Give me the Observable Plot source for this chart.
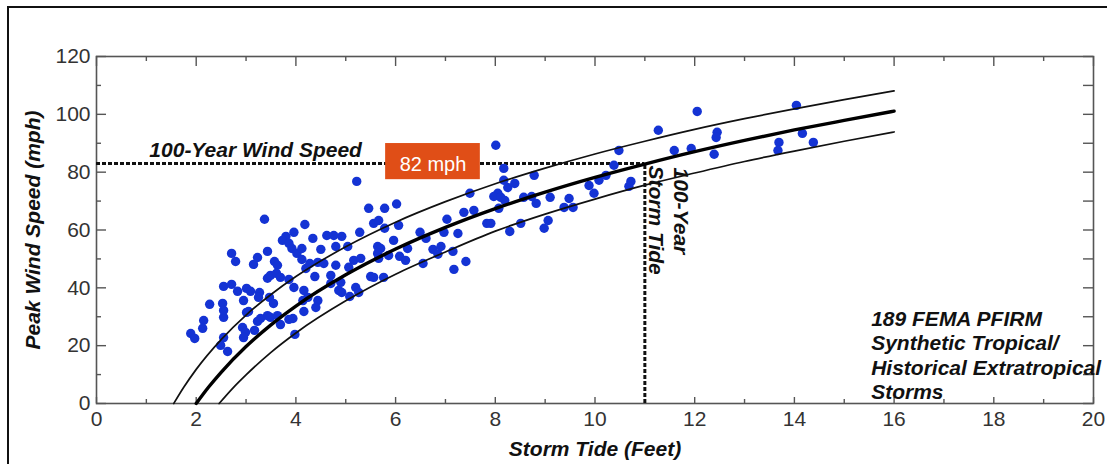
<!DOCTYPE html>
<html><head><meta charset="utf-8">
<script src="https://cdn.jsdelivr.net/npm/d3@7"></script>
<script src="https://cdn.jsdelivr.net/npm/@observablehq/plot@0.6"></script>
<style>
html,body{margin:0;padding:0;background:#fff;overflow:hidden}
#wrap{position:relative;width:1107px;height:464px;overflow:hidden}
#border{position:absolute;left:7px;top:6px;width:1300px;height:700px;border:2px solid #111;box-sizing:border-box;pointer-events:none}
</style></head><body><div id="wrap"><div id="border"></div></div>
<script>
// Storm data (storm tide in feet, peak wind speed in mph)
const stormTide = [
3.37,4.18,3.96,3.80,3.73,4.34,4.62,3.86,3.92,4.02,
4.12,4.50,3.43,2.71,2.79,3.23,3.15,3.57,3.63,4.12,
4.20,4.28,4.44,4.56,3.43,3.49,3.61,3.69,3.86,3.96,
4.38,2.55,2.71,2.83,3.01,3.09,3.27,3.25,2.95,3.47,
3.55,4.16,4.24,4.14,4.44,4.40,2.53,2.27,2.55,2.55,
3.01,3.05,3.43,3.49,3.29,3.23,3.63,3.86,3.94,4.16,
2.15,2.13,2.93,2.99,2.95,3.69,3.98,1.89,1.97,2.55,
3.17,2.49,2.63,
5.22,7.49,5.46,5.78,6.02,5.56,5.66,5.78,6.06,5.28,
4.76,4.92,4.80,5.04,5.96,6.49,6.61,7.03,6.97,7.25,
7.37,7.57,7.83,5.64,5.70,5.64,5.66,6.24,5.86,6.08,
6.20,6.75,6.85,6.91,7.15,7.41,7.17,6.55,5.16,5.30,
4.80,5.06,4.70,5.50,5.56,5.76,4.90,4.86,4.92,5.20,
5.26,5.08,4.70,
8.01,10.48,8.17,10.38,8.78,8.17,8.25,8.39,8.05,7.97,
8.11,8.19,9.88,9.98,10.08,10.22,10.72,10.68,8.57,8.73,
8.82,9.10,9.48,9.38,9.56,8.07,7.91,8.51,8.29,9.06,8.98,
11.27,12.05,14.04,12.45,12.43,11.59,11.93,12.39,13.69,13.67,14.16,14.38
];
const peakWind = [
63.7,61.9,59.2,57.8,56.4,57.1,58.1,55.4,53.6,51.9,
53.6,53.3,52.6,51.9,49.1,50.5,48.1,49.1,47.8,49.8,
46.7,48.4,48.8,48.4,43.3,44.3,45.0,43.6,42.9,40.1,
43.9,40.5,41.2,38.8,39.8,38.8,38.4,36.7,35.6,36.7,
34.6,39.1,36.7,35.6,35.6,33.2,34.6,34.3,29.8,32.2,
31.5,31.8,30.4,29.8,29.4,28.4,30.4,29.1,29.4,31.8,
28.7,26.0,26.3,24.6,22.8,27.3,23.9,24.2,22.5,22.8,
25.3,20.1,18.0,
76.8,72.7,67.5,67.5,69.0,62.3,63.3,60.6,61.6,59.2,
58.1,57.8,54.3,54.3,56.4,59.2,57.1,63.7,59.2,58.8,
66.1,66.8,62.3,54.3,53.6,51.9,50.2,53.6,51.2,50.9,
49.5,53.3,51.6,54.3,52.6,49.1,46.4,48.4,49.5,50.2,
47.8,47.1,44.3,43.9,43.6,43.6,41.9,39.1,38.4,40.1,
38.4,37.0,41.5,
89.3,87.5,81.3,82.4,78.9,77.2,74.7,76.1,72.7,71.6,
71.3,70.2,75.4,72.7,77.2,78.9,76.8,75.1,71.3,71.6,
69.2,71.3,70.9,67.8,67.8,67.5,62.3,62.3,59.5,63.3,60.6,
94.5,101.0,103.1,93.8,92.0,87.5,88.2,86.2,90.3,87.5,93.4,90.3
];

// Fitted relationship curves
const centralX = [2, 2.25, 2.5, 3, 3.5, 4, 5, 6, 7, 8, 9, 10, 11, 12, 13, 14, 15, 16];
const centralY = [0, 5.7, 10.8, 19.7, 27.2, 33.7, 44.5, 53.4, 60.9, 67.4, 73.1, 78.2, 82.8, 87.1, 91.0, 94.6, 97.9, 101.1];
const upperX = [1.55, 1.75, 2, 2.5, 3, 3.5, 4, 5, 6, 7, 8, 9, 10, 11, 12, 13, 14, 15, 16];
const upperY = [0, 5.6, 11.8, 22.1, 30.6, 37.7, 43.9, 54.2, 62.7, 69.8, 76.0, 81.4, 86.3, 90.7, 94.8, 98.5, 101.9, 105.1, 108.1];
const lowerX = [2.46, 2.75, 3, 3.5, 4, 5, 6, 7, 8, 9, 10, 11, 12, 13, 14, 15, 16];
const lowerY = [0, 5.6, 9.9, 17.7, 24.4, 35.5, 44.7, 52.4, 59.6, 65.5, 70.7, 75.5, 79.7, 83.7, 87.3, 90.7, 93.9];

// 100-year values
const hundredYearWind = 83;
const hundredYearWindLabel = "82 mph";
const hundredYearTide = 11;

// Ticks
const xMajorTicks = [0, 2, 4, 6, 8, 10, 12, 14, 16, 18, 20];
const xMinorTicks = [1, 3, 5, 7, 9, 11, 13, 15, 17, 19];
const yMajorTicks = [0, 20, 40, 60, 80, 100, 120];
const yMinorTicks = [10, 30, 50, 70, 90, 110];

// Text
const xTitle = "Storm Tide (Feet)";
const yTitle = "Peak Wind Speed (mph)";
const windLineLabel = "100-Year Wind Speed";
const tideLabel1 = "100-Year";
const tideLabel2 = "Storm Tide";
const noteLines = ["189 FEMA PFIRM", "Synthetic Tropical/", "Historical Extratropical", "Storms"];

const storms = stormTide.map((x, i) => ({x, y: peakWind[i]}));
const central = centralX.map((x, i) => ({x, y: centralY[i]}));
const upper = upperX.map((x, i) => ({x, y: upperY[i]}));
const lower = lowerX.map((x, i) => ({x, y: lowerY[i]}));

const W = 1107, H = 464, ML = 96, MR = 14, MT = 56, MB = 61;
const PW = W - ML - MR, PH = H - MT - MB;
const FONT = "'Liberation Sans', Arial, Helvetica, sans-serif";
const titleStyle = {fontFamily: FONT, fontSize: 21, fontWeight: "bold", fontStyle: "italic", fill: "#111"};

const chart = Plot.plot({
  width: W, height: H,
  marginLeft: ML, marginRight: MR, marginTop: MT, marginBottom: MB,
  style: {fontFamily: FONT, background: "transparent", color: "#333"},
  x: {domain: [0, 20], axis: null},
  y: {domain: [0, 120], axis: null},
  marks: [
    Plot.frame({stroke: "#555", strokeWidth: 1.6}),
    // inward ticks
    Plot.tickX(xMajorTicks, {x: d => d, insetTop: PH - 6, stroke: "#555", strokeWidth: 1.4}),
    Plot.tickX(xMinorTicks, {x: d => d, insetTop: PH - 4, stroke: "#555", strokeWidth: 1.4}),
    Plot.tickX(xMajorTicks, {x: d => d, insetBottom: PH - 10, stroke: "#555", strokeWidth: 1.4}),
    Plot.tickX(xMinorTicks, {x: d => d, insetBottom: PH - 5, stroke: "#555", strokeWidth: 1.4}),
    Plot.tickY(yMajorTicks, {y: d => d, insetRight: PW - 10, stroke: "#555", strokeWidth: 1.4}),
    Plot.tickY(yMinorTicks, {y: d => d, insetRight: PW - 5, stroke: "#555", strokeWidth: 1.4}),
    Plot.tickY(yMajorTicks.concat(yMinorTicks), {y: d => d, insetLeft: PW - 10, stroke: "#555", strokeWidth: 1.4}),
    // tick labels
    Plot.text(xMajorTicks, {x: d => d, y: 0, text: d => String(d), dy: 16, lineAnchor: "middle", textAnchor: "middle", fontSize: 21, fontFamily: FONT, fill: "#333"}),
    Plot.text(yMajorTicks, {x: 0, y: d => d, text: d => String(d), dx: -6, lineAnchor: "middle", textAnchor: "end", fontSize: 21, fontFamily: FONT, fill: "#333"}),
    // dashed 100-year lines
    Plot.ruleY([hundredYearWind], {x1: 0, x2: hundredYearTide, stroke: "#111", strokeWidth: 3, strokeDasharray: "4,2"}),
    Plot.ruleX([hundredYearTide], {y1: 0, y2: hundredYearWind, stroke: "#111", strokeWidth: 3, strokeDasharray: "4,2"}),
    // storms
    Plot.dot(storms, {x: "x", y: "y", r: 4.7, fill: "#1433d4", stroke: "none"}),
    // curves
    Plot.line(upper, {x: "x", y: "y", stroke: "#111", strokeWidth: 1.7, curve: "monotone-x"}),
    Plot.line(lower, {x: "x", y: "y", stroke: "#111", strokeWidth: 1.7, curve: "monotone-x"}),
    Plot.line(central, {x: "x", y: "y", stroke: "#000", strokeWidth: 3.4, curve: "monotone-x"}),
    // label box
    Plot.rect([hundredYearWind], {x1: 5.8, x2: 7.7, y1: d => d - 5.6, y2: d => d + 6.9, fill: "#e04e17"}),
    Plot.text([hundredYearWindLabel], {x: 6.75, y: hundredYearWind, dy: 1, fill: "#fff", fontSize: 20, fontFamily: FONT}),
    Plot.text([windLineLabel], {x: 1.06, y: hundredYearWind, dy: -13, textAnchor: "start", ...titleStyle, fontSize: 21}),
    Plot.text([tideLabel1], {x: hundredYearTide, y: hundredYearWind, dx: 36, dy: 4, rotate: 90, textAnchor: "start", ...titleStyle, fontSize: 21}),
    Plot.text([tideLabel2], {x: hundredYearTide, y: hundredYearWind, dx: 11, dy: 2, rotate: 90, textAnchor: "start", ...titleStyle, fontSize: 21}),
    Plot.text([noteLines.join("\n")], {x: 15.54, y: 33, textAnchor: "start", lineAnchor: "top", lineHeight: 1.17, ...titleStyle, fontSize: 21}),
    // axis titles
    Plot.text([xTitle], {frameAnchor: "bottom", dy: 46, textAnchor: "middle", lineAnchor: "middle", ...titleStyle}),
    Plot.text([yTitle], {frameAnchor: "left", dx: -63, rotate: -90, textAnchor: "middle", lineAnchor: "middle", ...titleStyle})
  ]
});
document.getElementById("wrap").prepend(chart);
</script>
</body></html>
